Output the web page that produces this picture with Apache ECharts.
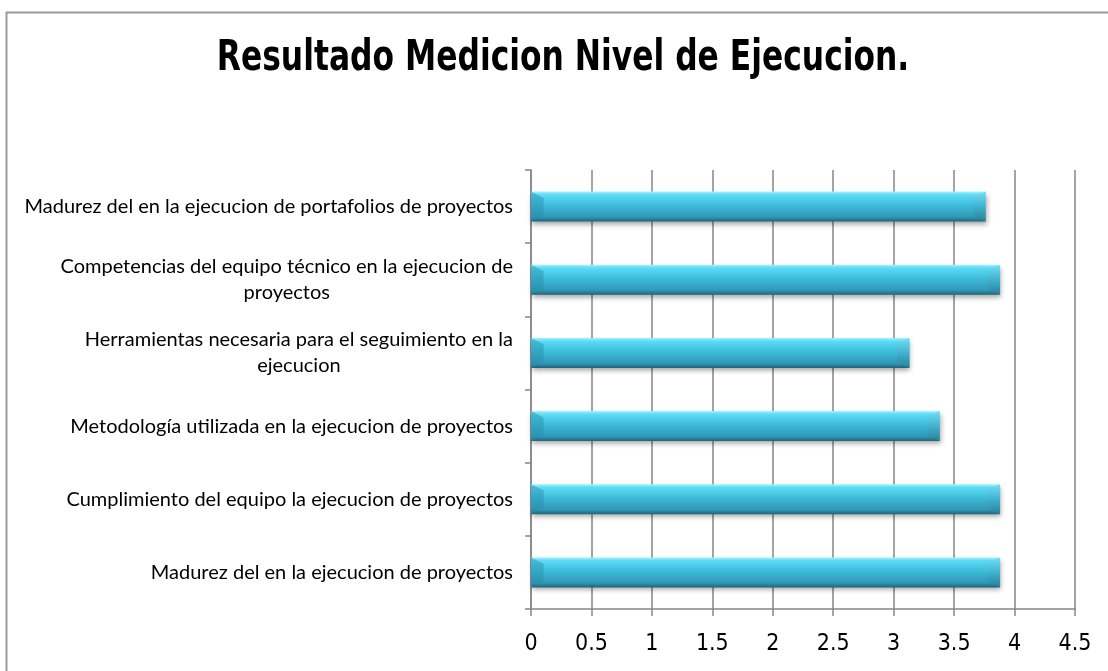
<!DOCTYPE html>
<html>
<head>
<meta charset="utf-8">
<script src="https://cdn.jsdelivr.net/npm/echarts@6/dist/echarts.min.js"></script>
<style>
  html, body { margin: 0; padding: 0; background: #fff; }
  #main { width: 1108px; height: 671px; }
</style>
</head>
<body>
<div id="main"></div>
<script>
// datos (de arriba hacia abajo)
var categorias = [
  'Madurez del en la ejecucion de portafolios de proyectos',
  'Competencias del equipo técnico en la ejecucion de proyectos',
  'Herramientas necesaria para el seguimiento en la ejecucion',
  'Metodología utilizada en la ejecucion de proyectos',
  'Cumplimiento del equipo la ejecucion de proyectos',
  'Madurez del en la ejecucion de proyectos'
];
var valores = [3.76, 3.88, 3.13, 3.38, 3.88, 3.88];
var tituloTexto = 'Resultado Medicion Nivel de Ejecucion.';

var NARROW = "'Liberation Sans Narrow', 'DejaVu Sans Condensed', Roboto, sans-serif";
var LABEL_FONT = '20px Lato';
var ctx = document.createElement('canvas').getContext('2d');
ctx.font = LABEL_FONT;

// corta la etiqueta en lineas de ancho maximo
function wrapLabel(txt, maxW){
  var words = txt.split(' '), lines = [], cur = '';
  for (var i = 0; i < words.length; i++) {
    var t = cur ? cur + ' ' + words[i] : words[i];
    if (ctx.measureText(t).width > maxW && cur) {
      lines.push(cur);
      cur = words[i];
    } else {
      cur = t;
    }
  }
  if (cur) lines.push(cur);
  return lines.map(function(l){ return '{c|' + l + '}'; }).join('\n');
}

function renderBar(params, api){
  var cat = api.value(0), val = api.value(1);
  var p0 = api.coord([0, cat]), p1 = api.coord([val, cat]);
  var band = api.size([0, 1])[1];
  var h = band * 0.41;
  var x0 = p0[0], x1 = p1[0], y0 = p0[1] - h / 2, y1 = p0[1] + h / 2;
  var b = h * 0.42;
  var grad = new echarts.graphic.LinearGradient(0, 0, 0, 1, [
    { offset: 0, color: '#a6f4ff' },
    { offset: 0.1, color: '#5fdcf5' },
    { offset: 0.45, color: '#3dbcdb' },
    { offset: 0.85, color: '#2f98b5' },
    { offset: 1, color: '#1d6478' }
  ]);
  return {
    type: 'group',
    children: [
      {
        type: 'rect',
        shape: { x: x0, y: y0, width: x1 - x0, height: h },
        style: { fill: grad, shadowBlur: 5, shadowOffsetY: 3, shadowOffsetX: 1, shadowColor: 'rgba(0,0,0,0.35)' }
      },
      {
        type: 'polygon',
        shape: { points: [[x1 - b, y0 + b * 0.5], [x1, y0], [x1, y1], [x1 - b, y1 - b * 0.5]] },
        style: { fill: new echarts.graphic.LinearGradient(0, 0, 0, 1, [
          { offset: 0, color: '#73def5' },
          { offset: 0.5, color: '#40b2cf' },
          { offset: 1, color: '#2a7f96' }
        ]) }
      },
      {
        type: 'polygon',
        shape: { points: [[x0, y0], [x0 + b, y0 + b * 0.5], [x0 + b, y1 - b * 0.5], [x0, y1]] },
        style: { fill: 'rgba(40,140,170,0.45)' }
      }
    ]
  };
}

var chart = echarts.init(document.getElementById('main'));
var option = {
  backgroundColor: '#fff',
  animation: false,
  graphic: [{
    type: 'rect',
    shape: { x: 6.5, y: 12.5, width: 1200, height: 800 },
    style: { fill: null, stroke: '#9a9a9a', lineWidth: 2 },
    silent: true
  }, {
    // titulo con letra estrecha
    type: 'text',
    x: 563,
    y: 59,
    scaleX: 0.83,
    silent: true,
    style: {
      text: tituloTexto,
      font: "bold 42px " + NARROW,
      fill: '#000',
      align: 'center',
      verticalAlign: 'middle'
    }
  }],
  grid: { left: 531, right: 33, top: 170, bottom: 62 },
  xAxis: {
    type: 'value',
    min: 0,
    max: 4.5,
    interval: 0.5,
    axisLine: { show: true, lineStyle: { color: '#868686', width: 1.5 } },
    axisTick: { show: true, length: 7, lineStyle: { color: '#868686', width: 1.5 } },
    splitLine: { show: true, lineStyle: { color: '#868686', width: 1.5 } },
    axisLabel: {
      margin: 24,
      fontFamily: NARROW,
      fontSize: 23,
      color: '#000'
    }
  },
  yAxis: {
    type: 'category',
    inverse: true,
    data: categorias,
    axisLine: { show: true, lineStyle: { color: '#868686', width: 1.5 } },
    axisTick: { show: true, length: 6, lineStyle: { color: '#868686', width: 1.5 } },
    axisLabel: {
      margin: 18,
      color: '#000',
      formatter: function(v){ return wrapLabel(v, 500); },
      rich: {
        c: { fontFamily: 'Lato', fontSize: 20, color: '#000', align: 'center', lineHeight: 26 }
      }
    }
  },
  series: [{
    type: 'custom',
    renderItem: renderBar,
    encode: { x: 1, y: 0 },
    data: valores.map(function(v, i){ return [i, v]; })
  }]
};
chart.setOption(option);
</script>
</body>
</html>
